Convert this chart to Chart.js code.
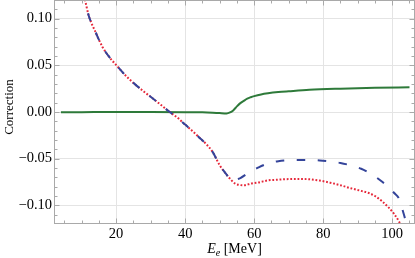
<!DOCTYPE html>
<html><head><meta charset="utf-8">
<script src="https://cdn.jsdelivr.net/npm/chart.js@4.4.0/dist/chart.umd.min.js"></script>
<style>html,body{margin:0;padding:0;background:#fff}#wrap{width:415px;height:258px}</style>
</head><body><div id="wrap"><canvas id="c" width="415" height="258"></canvas></div>
<script>
// Shared part of the red dotted and blue dashed curves (E_e in MeV, correction)
const energyCommon = [10.5, 11, 12, 13, 14, 15, 16, 17, 18, 19, 20, 22, 24, 26, 28, 30, 32, 34, 36, 38, 40, 42, 44, 46, 48, 50, 52, 53.5];
const valueCommon  = [0.128, 0.120, 0.104, 0.094, 0.086, 0.0775, 0.070, 0.064, 0.059, 0.0545, 0.0505, 0.042, 0.0345, 0.028, 0.022, 0.0163, 0.0105, 0.0045, -0.0012, -0.0068, -0.0135, -0.0200, -0.0270, -0.0340, -0.0430, -0.0570, -0.0670, -0.0735];
// Red dotted tail
const energyRed = [54.5, 55.5, 57, 59, 61, 64, 67, 70, 73, 76, 79, 82, 85, 88, 91, 93, 95, 97, 99, 100.5, 102, 103];
const valueRed  = [-0.0768, -0.0780, -0.0786, -0.0767, -0.0757, -0.0733, -0.0725, -0.0719, -0.0718, -0.0721, -0.0735, -0.0757, -0.0785, -0.0817, -0.0845, -0.0865, -0.0900, -0.0955, -0.1025, -0.109, -0.1175, -0.125];
// Blue dashed tail
const energyBlue = [54.5, 56, 58, 59.4, 61.3, 63, 65, 67, 70, 73, 76, 79, 82, 85, 88, 91, 93, 95, 97, 99, 100.5, 102, 103, 103.7, 104.4];
const valueBlue  = [-0.0725, -0.0708, -0.0660, -0.0630, -0.0593, -0.0565, -0.0540, -0.0527, -0.0517, -0.0514, -0.0515, -0.0519, -0.0530, -0.0546, -0.0572, -0.0608, -0.0645, -0.0690, -0.0745, -0.0810, -0.0865, -0.0930, -0.1050, -0.1140, -0.1230];
// Green solid curve
const energyGreen = [4, 10, 20, 30, 40, 45, 48, 50, 52, 53, 54, 55, 56, 57, 58, 59, 60, 62, 64, 67, 70, 76, 85, 95, 105];
const valueGreen  = [-0.0003, -0.0002, 0.0, 0.0, -0.0002, -0.0004, -0.0008, -0.0012, -0.0015, -0.0005, 0.002, 0.006, 0.0095, 0.012, 0.0143, 0.0158, 0.017, 0.0188, 0.020, 0.0213, 0.0222, 0.0238, 0.0250, 0.0259, 0.0265];

const xTicks = [20, 40, 60, 80, 100];
const yTicks = [-0.1, -0.05, 0, 0.05, 0.1];
const xMinorTicks = [5, 10, 15, 25, 30, 35, 45, 50, 55, 65, 70, 75, 85, 90, 95, 105];
const yMinorTicks = [-0.11, -0.09, -0.08, -0.07, -0.06, -0.04, -0.03, -0.02, -0.01, 0.01, 0.02, 0.03, 0.04, 0.06, 0.07, 0.08, 0.09, 0.11];
const xTitleMain = 'E', xTitleSub = 'e', xTitleUnit = ' [MeV]';
const yTitle = 'Correction';

const toPts = (xs, ys) => xs.map((x, i) => ({x: x, y: ys[i]}));
const redPts = toPts(energyCommon.concat(energyRed), valueCommon.concat(valueRed));
const bluePts = toPts(energyCommon.concat(energyBlue), valueCommon.concat(valueBlue));
const greenPts = toPts(energyGreen, valueGreen);

const FRAME = '#a9a9a9';
const SERIF = '"Liberation Serif", "DejaVu Serif", serif';

const frameTicks = {
  id: 'frameTicks',
  afterDraw(chart) {
    const {ctx, chartArea: a, scales: {x, y}} = chart;
    ctx.save();
    ctx.strokeStyle = FRAME;
    ctx.lineWidth = 1;
    const L = Math.round(a.left) + 0.5, R = Math.round(a.right) - 0.5, T = Math.round(a.top) + 0.5, B = Math.round(a.bottom) - 0.5;
    ctx.strokeRect(L, T, R - L, B - T);
    ctx.beginPath();
    const tickX = (v, len) => { const p = Math.round(x.getPixelForValue(v)) + 0.5; ctx.moveTo(p, B); ctx.lineTo(p, B - len); ctx.moveTo(p, T); ctx.lineTo(p, T + len); };
    const tickY = (v, len) => { const p = Math.round(y.getPixelForValue(v)) + 0.5; ctx.moveTo(L, p); ctx.lineTo(L + len, p); ctx.moveTo(R, p); ctx.lineTo(R - len, p); };
    xTicks.forEach(v => tickX(v, 5));
    xMinorTicks.forEach(v => tickX(v, 3));
    yTicks.forEach(v => tickY(v, 5));
    yMinorTicks.forEach(v => tickY(v, 3));
    ctx.stroke();

    // x axis title: italic E with subscript e, then [MeV]
    ctx.fillStyle = '#000';
    ctx.textBaseline = 'alphabetic';
    const fMain = 'italic 14px ' + SERIF, fSub = 'italic 10px ' + SERIF, fUnit = '14px ' + SERIF;
    ctx.font = fMain; const w1 = ctx.measureText(xTitleMain).width;
    ctx.font = fSub; const w2 = ctx.measureText(xTitleSub).width;
    ctx.font = fUnit; const w3 = ctx.measureText(xTitleUnit).width;
    const cx = (a.left + a.right) / 2;
    let sx = cx - (w1 + w2 + w3) / 2;
    const by = 253;
    ctx.font = fMain; ctx.fillText(xTitleMain, sx, by); sx += w1;
    ctx.font = fSub; ctx.fillText(xTitleSub, sx, by + 3); sx += w2;
    ctx.font = fUnit; ctx.fillText(xTitleUnit, sx, by);

    // y axis title
    ctx.save();
    ctx.translate(13, 107);
    ctx.rotate(-Math.PI / 2);
    ctx.font = '13px ' + SERIF;
    ctx.textAlign = 'center';
    ctx.fillText(yTitle, 0, 0);
    ctx.restore();
    ctx.restore();
  }
};

new Chart(document.getElementById('c'), {
  type: 'line',
  data: {
    datasets: [
      {label: 'blue', data: bluePts, borderColor: '#34449a', borderWidth: 2, borderDash: [8.5, 12.5], pointRadius: 0, cubicInterpolationMode: 'monotone', fill: false},
      {label: 'red', data: redPts, borderColor: '#e6283a', borderWidth: 2, borderDash: [1.8, 1.8], pointRadius: 0, cubicInterpolationMode: 'monotone', fill: false},
      {label: 'green', data: greenPts, borderColor: '#2e7a3a', borderWidth: 2, pointRadius: 0, cubicInterpolationMode: 'monotone', fill: false}
    ]
  },
  options: {
    responsive: false,
    animation: false,
    devicePixelRatio: 1,
    layout: {padding: 0},
    plugins: {legend: {display: false}, tooltip: {enabled: false}},
    scales: {
      x: {
        type: 'linear', min: 2, max: 106.6,
        afterBuildTicks: s => { s.ticks = xTicks.map(v => ({value: v})); },
        afterFit: s => { s.height = 34; s.paddingLeft = 0; s.paddingRight = 0; },
        ticks: {font: {family: SERIF, size: 14.5}, color: '#000', padding: 1, maxRotation: 0, autoSkip: false, callback: v => String(v)},
        grid: {color: '#e4e4e4', drawTicks: false},
        border: {display: false}
      },
      y: {
        type: 'linear', min: -0.12, max: 0.12,
        afterBuildTicks: s => { s.ticks = yTicks.map(v => ({value: v})); },
        afterFit: s => { s.width = 54; s.paddingTop = 0; s.paddingBottom = 0; },
        ticks: {font: {family: SERIF, size: 14.5}, color: '#000', padding: 2, autoSkip: false,
          callback: v => (v < -1e-9 ? '\u2212' : '') + Math.abs(v).toFixed(2)},
        grid: {color: '#e4e4e4', drawTicks: false},
        border: {display: false}
      }
    }
  },
  plugins: [frameTicks]
});
</script>
</body></html>
